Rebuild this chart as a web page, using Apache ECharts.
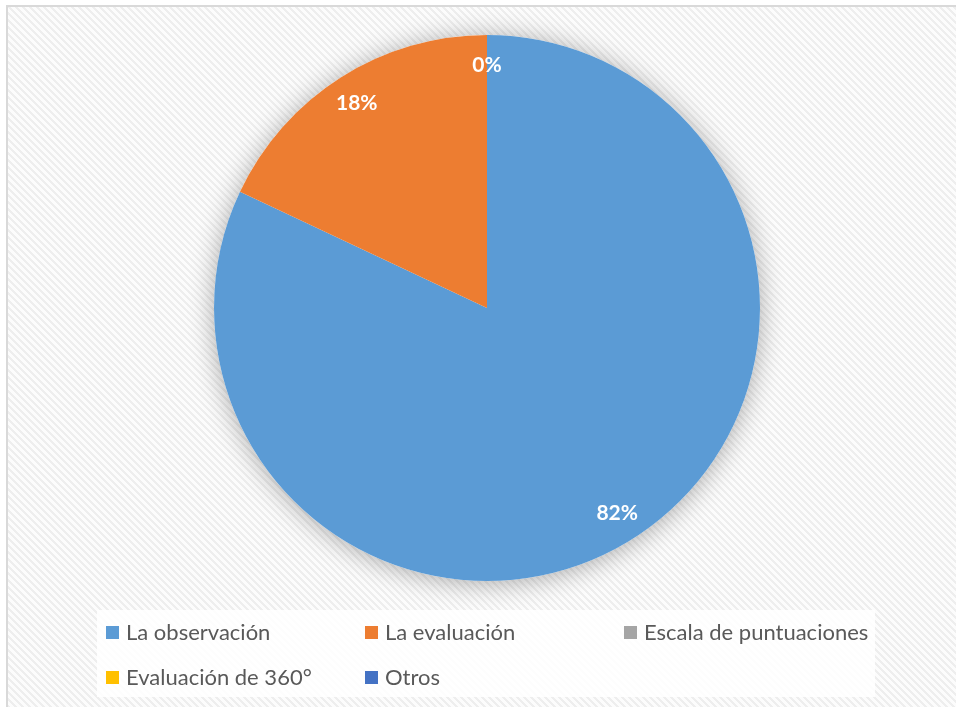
<!DOCTYPE html>
<html>
<head>
<meta charset="utf-8">
<script src="https://cdn.jsdelivr.net/npm/echarts@6/dist/echarts.min.js"></script>
<style>
  html, body { margin: 0; padding: 0; background: #ffffff; }
  #frame {
    position: absolute; left: 6px; top: 5px; width: 960px; height: 710px;
    border-left: 2px solid #d9d9d9; border-top: 2px solid #d9d9d9;
    background-color: #fbfbfb;
  }
  #chart { position: absolute; left: 0; top: 0; width: 956px; height: 707px; }
</style>
</head>
<body>
<div id="frame"></div>
<div id="chart"></div>
<script>
// Técnicas de evaluación utilizadas (porcentaje)
const categories = ['La observación', 'La evaluación', 'Escala de puntuaciones', 'Evaluación de 360°', 'Otros'];
const values = [82, 18, 0, 0, 0];
const colors = ['#5B9BD5', '#ED7D31', '#A5A5A5', '#FFC000', '#4472C4'];

// fine diagonal hatch for the chart area background
(function () {
  const n = 7;
  const tile = document.createElement('canvas');
  tile.width = n; tile.height = n;
  const ctx = tile.getContext('2d');
  ctx.fillStyle = '#fcfcfc';
  ctx.fillRect(0, 0, n, n);
  ctx.fillStyle = '#eeeeee';
  for (let y = 0; y < n; y++) {
    for (let x = 0; x < n; x++) {
      const d = ((x - y) % n + n) % n;
      if (d < 3) ctx.fillRect(x, y, 1, 1);
    }
  }
  const frame = document.getElementById('frame');
  frame.style.backgroundImage = 'url(' + tile.toDataURL() + ')';
  frame.style.backgroundRepeat = 'repeat';
})();

const pieData = categories.map((name, i) => ({ name, value: values[i] }));
const total = values.reduce((a, b) => a + b, 0);

const center = [487, 308];
const outer = 273;

const chart = echarts.init(document.getElementById('chart'), null, { renderer: 'canvas' });

chart.setOption({
  animation: false,
  color: colors,
  legend: {
    data: categories,
    left: 97,
    top: 610,
    width: 790,
    orient: 'horizontal',
    padding: [4, 0, 1, 9],
    itemGap: 8,
    itemWidth: 13,
    itemHeight: 13,
    icon: 'rect',
    backgroundColor: 'rgba(255,255,255,0.85)',
    selectedMode: false,
    textStyle: {
      fontFamily: 'Lato',
      fontSize: 22,
      color: '#595959',
      width: 231,
      lineHeight: 37,
      padding: [0, 0, 0, 2]
    }
  },
  series: [
    {
      // soft halo behind the pie
      type: 'pie',
      silent: true,
      center: center,
      radius: [0, outer],
      label: { show: false },
      labelLine: { show: false },
      itemStyle: {
        color: '#ffffff',
        shadowBlur: 26,
        shadowOffsetY: 2,
        shadowColor: 'rgba(0,0,0,0.32)'
      },
      data: [{ name: '', value: total }],
      z: 1
    },
    {
      type: 'pie',
      name: 'Técnicas',
      center: center,
      radius: [0, outer],
      startAngle: 90,
      clockwise: true,
      avoidLabelOverlap: false,
      label: { show: false },
      labelLine: { show: false },
      emphasis: { disabled: true },
      data: pieData,
      z: 2
    },
    {
      // percentage labels placed near the rim
      type: 'pie',
      silent: true,
      center: center,
      radius: [207, outer],
      startAngle: 90,
      clockwise: true,
      avoidLabelOverlap: false,
      itemStyle: { color: 'rgba(0,0,0,0)' },
      label: {
        show: true,
        position: 'inside',
        formatter: p => Math.round(p.percent) + '%',
        color: '#ffffff',
        fontFamily: 'Lato',
        fontWeight: 'bold',
        fontSize: 21
      },
      labelLine: { show: false },
      emphasis: { disabled: true },
      data: pieData,
      z: 3
    }
  ]
});
</script>
</body>
</html>
